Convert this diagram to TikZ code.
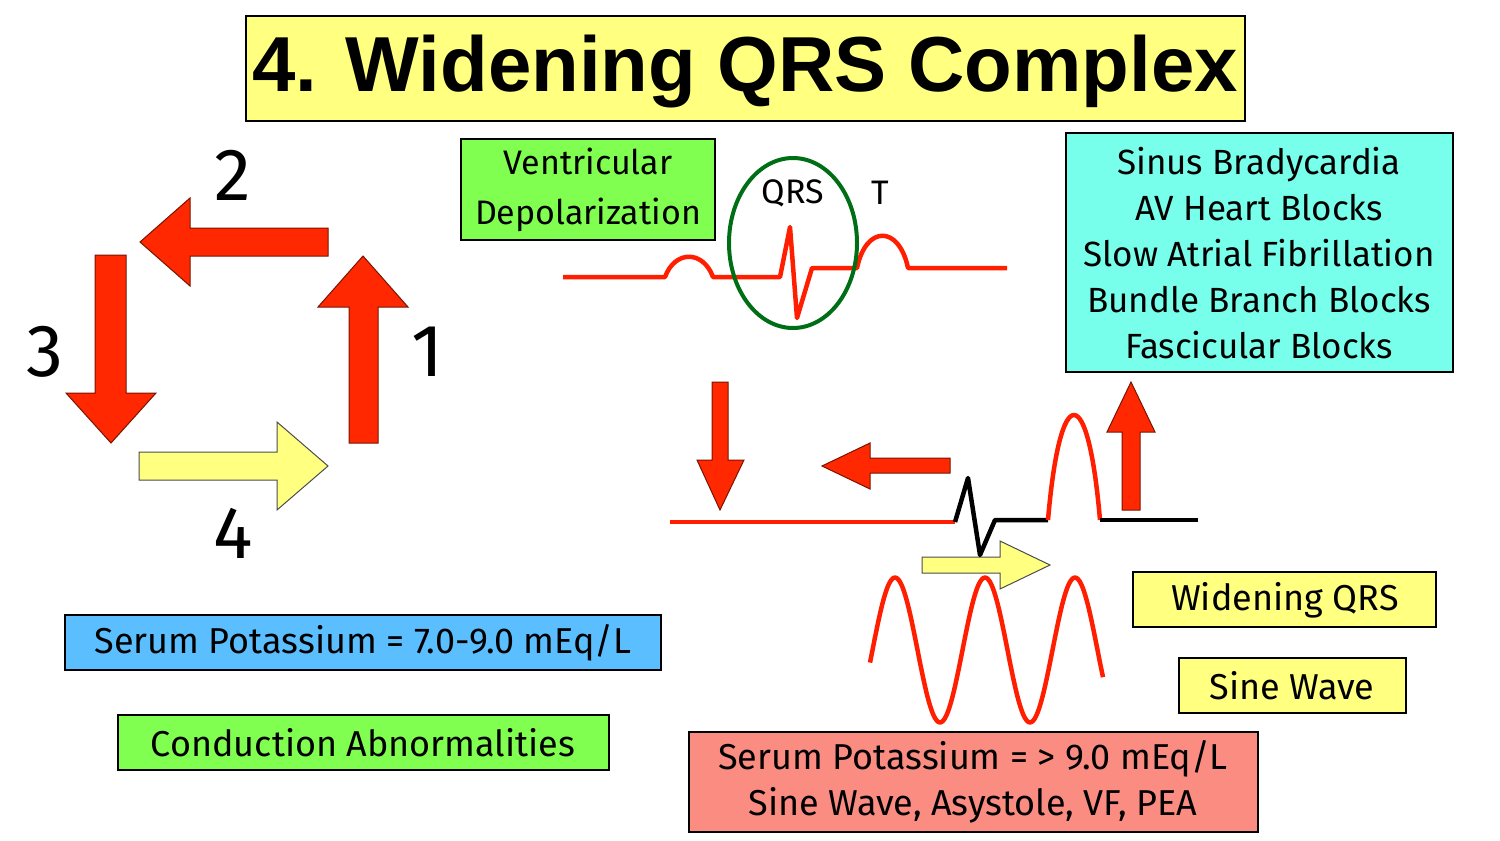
\documentclass[tikz,border=0pt]{standalone}
\usepackage{fontspec}
\setmainfont{Fira Sans}
\newfontfamily\titlefont{Liberation Sans}
\begin{document}
\begin{tikzpicture}[x=1pt,y=-1pt,
 box/.style={draw=black,line width=1.5pt,inner sep=0pt},
 txt/.style={font=\fontsize{36}{40}\selectfont,align=center},
 redarr/.style={fill={rgb,255:red,255;green,40;blue,0},draw={rgb,255:red,120;green,20;blue,0},line width=1pt},
 yelarr/.style={fill={rgb,255:red,255;green,255;blue,128},draw=black!70,line width=1pt},
 num/.style={font=\fontsize{74}{74}\selectfont},
 ecg/.style={draw={rgb,255:red,255;green,30;blue,0},line width=4.5pt,line join=round},
 ecgk/.style={draw=black,line width=4.5pt,line join=round}]
\useasboundingbox (0,0) rectangle (1500,841);
\definecolor{ttl}{RGB}{255,255,128}
\definecolor{grn}{RGB}{128,255,80}
\definecolor{blu}{RGB}{90,190,255}
\definecolor{cyn}{RGB}{120,255,235}
\definecolor{pnk}{RGB}{250,140,130}
% title
\draw[box,fill=ttl] (246,16) rectangle (1245,121);
\node[font=\titlefont\bfseries\fontsize{78}{80}\selectfont] (title) at (745,72) {4. Widening QRS Complex};
% cycle arrows
\draw[redarr] (328,228) -- (190,228) -- (190,198) -- (140,242) -- (190,286) -- (190,256) -- (328,256) -- cycle;
\draw[redarr] (95,255) -- (95,393) -- (66,393) -- (111,443) -- (156,393) -- (126,393) -- (126,255) -- cycle;
\draw[redarr] (349,443) -- (349,307) -- (318,307) -- (363,256) -- (408,307) -- (378,307) -- (378,443) -- cycle;
\draw[yelarr] (139,452) -- (277,452) -- (277,422) -- (328,466) -- (277,510) -- (277,480) -- (139,480) -- cycle;
\node[num] (n2) at (233,175) {2};
\node[num] (n3) at (45,352) {3};
\node[num] (n1) at (428,352) {1};
\node[num] (n4) at (233,533) {4};
% left boxes
\draw[box,fill=blu] (65,615) rectangle (661,670);
\node[txt] (sp1) at (363,643) {Serum Potassium = 7.0-9.0 mEq/L};
\draw[box,fill=grn] (118,715) rectangle (609,770);
\node[txt] (ca) at (363,743) {Conduction Abnormalities};
% ventricular depol
\draw[box,fill=grn] (461,139) rectangle (715,240);
\node[txt,font=\fontsize{34}{50}\selectfont] (vd) at (588,190) {Ventricular\\Depolarization};
% top ECG
\draw[ecg] (563,277) -- (665,277) .. controls (675,250) and (703,250) .. (713,277) -- (780,277) -- (790,227) -- (797,318) -- (812,268) -- (857,268) .. controls (866,225) and (899,225) .. (908,268) -- (1007,268);
\draw[draw={rgb,255:red,0;green,110;blue,20},line width=4pt] (793,243) ellipse (64 and 85);
\node[font=\fontsize{34}{40}\selectfont] (qrs) at (793,193) {QRS};
\node[font=\fontsize{34}{40}\selectfont] (t) at (880,193) {T};
% cyan box
\draw[box,fill=cyn] (1066,133) rectangle (1453,372);
\node[txt,font=\fontsize{35}{46}\selectfont] (list) at (1259,253) {Sinus Bradycardia\\AV Heart Blocks\\Slow Atrial Fibrillation\\Bundle Branch Blocks\\Fascicular Blocks};
% small arrows
\draw[redarr] (712,382) -- (712,460) -- (697,460) -- (720,510) -- (744,460) -- (728,460) -- (728,382) -- cycle;
\draw[redarr] (950,458) -- (870,458) -- (870,443) -- (822,466) -- (870,489) -- (870,473) -- (950,473) -- cycle;
\draw[redarr] (1122,510) -- (1122,432) -- (1107,432) -- (1131,382) -- (1155,432) -- (1140,432) -- (1140,510) -- cycle;
\draw[yelarr] (922,557) -- (1000,557) -- (1000,541) -- (1050,565) -- (1000,589) -- (1000,573) -- (922,573) -- cycle;
% bottom ECG
\draw[ecg] (670,522) -- (955,522);
\draw[ecgk] (955,522) -- (968,478) -- (980,555) -- (995,520) -- (1048,520);
\draw[ecg] (1048,520) .. controls (1060,380) and (1088,380) .. (1100,520);
\draw[ecgk] (1100,520) -- (1198,520);
% sine
\draw[ecg,domain=0:233,samples=120,smooth] plot ({870+\x},{650-72.5*sin(4*(\x-2.5))});
% right boxes
\draw[box,fill=ttl] (1133,572) rectangle (1436,627);
\node[txt] (wq) at (1285,600) {Widening QRS};
\draw[box,fill=ttl] (1179,658) rectangle (1406,713);
\node[txt] (sw) at (1292,686) {Sine Wave};
\draw[box,fill=pnk] (689,732) rectangle (1258,832);
\node[txt,font=\fontsize{36}{46}\selectfont] (sp2) at (973,782) {Serum Potassium = > 9.0 mEq/L\\Sine Wave, Asystole, VF, PEA};
\end{tikzpicture}
\end{document}
